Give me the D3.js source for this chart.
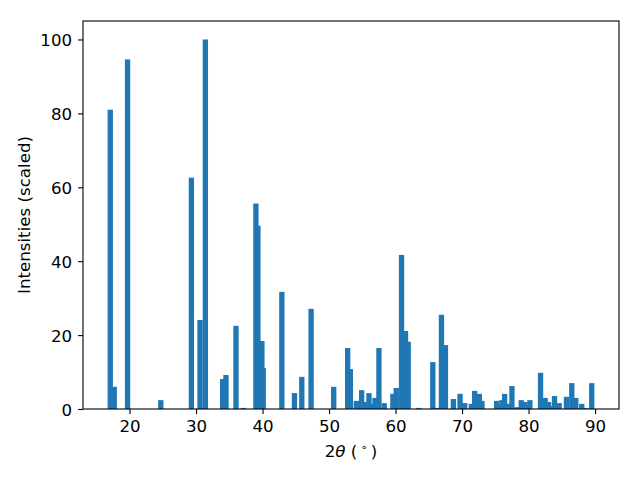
<!DOCTYPE html>
<html><head><meta charset="utf-8">
<script src="https://cdn.jsdelivr.net/npm/d3@7"></script>
<style>body{margin:0;background:#fff}svg{display:block}text{font-family:"DejaVu Sans",sans-serif}</style>
</head><body>
<script>
const twoTheta = [17.1,17.7,19.7,24.7,29.3,30.6,31.4,34.0,34.5,36.0,37.1,39.0,39.3,39.9,40.1,42.9,44.8,45.9,47.3,50.7,52.8,53.2,54.1,54.9,55.3,56.0,56.4,56.9,57.5,58.3,59.6,60.1,60.9,61.5,61.9,63.5,65.6,66.2,66.4,66.9,67.5,68.7,69.7,70.4,71.4,71.9,72.6,73.0,75.2,75.7,76.0,76.4,76.9,77.5,78.3,78.9,79.4,79.6,80.2,81.8,82.5,83.0,83.4,83.9,84.6,85.7,86.5,87.1,88.0,88.5,89.5];
const intensity = [81.0,6.0,94.6,2.4,62.6,24.1,100,8.1,9.2,22.5,0.3,55.6,49.6,18.4,11.1,31.7,4.3,8.7,27.1,6.0,16.5,10.8,2.2,5.1,1.9,4.3,1.4,3.0,16.5,1.6,4.1,5.7,41.7,21.1,18.2,0.3,12.7,0.3,0.2,25.5,17.3,2.7,4.1,1.6,1.4,4.9,4.1,2.2,2.2,1.1,2.4,4.1,1.4,6.2,0.5,2.4,1.9,1.1,2.4,9.8,3.0,1.9,0.8,3.5,1.6,3.3,7.0,3.0,1.4,0.3,7.0];
const xTicks = [20,30,40,50,60,70,80,90];
const yTicks = [0,20,40,60,80,100];
const barWidth = 0.8;

const W=640,H=480, L=83, R=619, T=21, B=409, FS="16.67px";
const svg = d3.select("body").append("svg").attr("width",W).attr("height",H);
const x = d3.scaleLinear().domain([13.0,93.6]).range([L,R]);
const y = d3.scaleLinear().domain([0,105.0]).range([B,T]);

const data = twoTheta.map((t,i)=>({t, v:intensity[i]}));
svg.append("g").selectAll("rect").data(data).enter().append("rect")
  .attr("x",d=>x(d.t-barWidth/2)).attr("width",d=>x(d.t+barWidth/2)-x(d.t-barWidth/2))
  .attr("y",d=>y(d.v)).attr("height",d=>y(0)-y(d.v)).attr("fill","#1f77b4");

const xa = svg.append("g").attr("transform",`translate(0,${B})`)
  .call(d3.axisBottom(x).tickValues(xTicks).tickSize(4.9).tickPadding(6).tickFormat(d3.format("d")));
const ya = svg.append("g").attr("transform",`translate(${L},0)`)
  .call(d3.axisLeft(y).tickValues(yTicks).tickSize(4.9).tickPadding(6).tickFormat(d3.format("d")));
[xa,ya].forEach(a=>{a.select(".domain").remove();
  a.attr("font-size",null).attr("font-family",null);
  a.selectAll("text").style("font-size",FS).attr("fill","#000").style("font-family","DejaVu Sans");
  a.selectAll("line").attr("stroke","#000").attr("stroke-width",1.1);});
xa.selectAll("text").attr("dy",null).attr("y",null).attr("dominant-baseline",null).attr("transform","translate(0,23)");
ya.selectAll("text").attr("dy","0.36em");

svg.append("rect").attr("x",L).attr("y",T).attr("width",R-L).attr("height",B-T)
  .attr("fill","none").attr("stroke","#000").attr("stroke-width",1.1);

const xl = svg.append("text").attr("x",(L+R)/2).attr("y",457).attr("text-anchor","middle").style("font-size",FS);
xl.append("tspan").text("2");
xl.append("tspan").attr("font-style","italic").text("θ");
xl.append("tspan").text(" (\u2009");
xl.append("tspan").style("font-size","11px").attr("dy",-6).text("∘");
xl.append("tspan").attr("dy",6).text("\u2009)");

svg.append("text").attr("transform",`translate(30,${(T+B)/2}) rotate(-90)`)
  .attr("text-anchor","middle").style("font-size",FS).text("Intensities (scaled)");
</script>
</body></html>
